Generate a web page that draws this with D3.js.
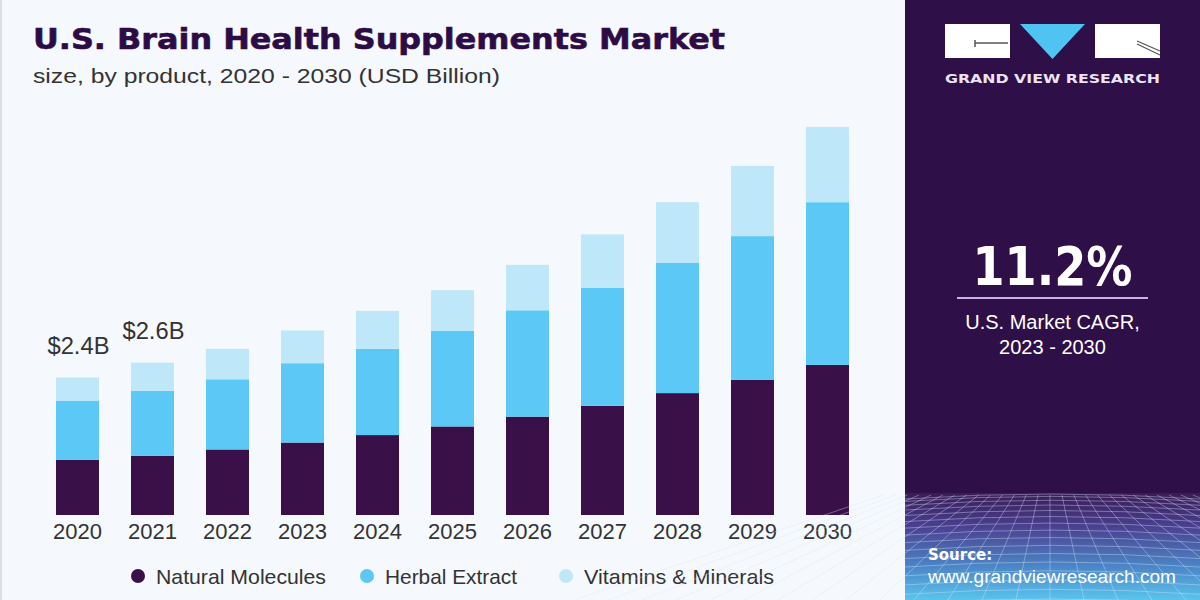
<!DOCTYPE html>
<html>
<head>
<meta charset="utf-8">
<script src="https://cdn.jsdelivr.net/npm/d3@7"></script>
<style>
  html, body { margin: 0; padding: 0; background: #f5f8fc; }
  svg { display: block; }
</style>
</head>
<body>
<svg id="chart" width="1200" height="600"></svg>
<script>
// ---- Data ----
const years = ["2020","2021","2022","2023","2024","2025","2026","2027","2028","2029","2030"];
const naturalMolecules = [0.96, 1.03, 1.14, 1.26, 1.39, 1.54, 1.71, 1.90, 2.12, 2.35, 2.61];
const herbalExtract    = [1.03, 1.13, 1.22, 1.38, 1.50, 1.66, 1.85, 2.05, 2.27, 2.50, 2.83];
const vitaminsMinerals = [0.40, 0.49, 0.53, 0.57, 0.66, 0.71, 0.79, 0.93, 1.05, 1.22, 1.31];
const seriesNames = ["Natural Molecules", "Herbal Extract", "Vitamins & Minerals"];
const seriesColors = ["#3a1048", "#5bc8f5", "#bee8fa"];
const valueLabels = [{year: "2020", text: "$2.4B"}, {year: "2021", text: "$2.6B"}];
const titleText = "U.S. Brain Health Supplements Market";
const subtitleText = "size, by product, 2020 - 2030 (USD Billion)";
const cagrValue = "11.2%";
const cagrLines = ["U.S. Market CAGR,", "2023 - 2030"];

const svg = d3.select("#chart");
const W = 1200, H = 600;

// background
svg.append("rect").attr("x",0).attr("y",0).attr("width",W).attr("height",H).attr("fill","#f5f8fc");
svg.append("rect").attr("x",0).attr("y",0).attr("width",2).attr("height",H).attr("fill","#dcdfe4");

// ---- Stack ----
const table = years.map((y,i)=>({year:y, "Natural Molecules":naturalMolecules[i], "Herbal Extract":herbalExtract[i], "Vitamins & Minerals":vitaminsMinerals[i]}));
const stack = d3.stack().keys(seriesNames)(table);

const x = d3.scaleBand().domain(years).range([40, 865]).paddingInner(0.4267).paddingOuter(0.2133);
const y = d3.scaleLinear().domain([0, 7]).range([515, 515 - 7*57.5]);
const color = d3.scaleOrdinal().domain(seriesNames).range(seriesColors);

const g = svg.append("g");
g.selectAll("g.series").data(stack).join("g").attr("class","series")
  .attr("fill", d => color(d.key))
  .selectAll("rect").data(d => d).join("rect")
  .attr("x", d => x(d.data.year))
  .attr("width", x.bandwidth())
  .attr("y", d => y(d[1]))
  .attr("height", d => y(d[0]) - y(d[1]));

// x axis
const xAxis = d3.axisBottom(x).tickSize(0).tickPadding(8);
const ax = svg.append("g").attr("transform", `translate(0,${y(0)})`).call(xAxis);
ax.select(".domain").remove();
ax.selectAll("text").attr("font-family","'Liberation Sans', Arial, sans-serif").attr("font-size",22).attr("fill","#333");

// value labels
const totals = {};
years.forEach((yr,i)=> totals[yr] = naturalMolecules[i]+herbalExtract[i]+vitaminsMinerals[i]);
svg.selectAll("text.vlabel").data(valueLabels).join("text").attr("class","vlabel")
  .attr("x", d => x(d.year) + x.bandwidth()/2 + 1)
  .attr("y", d => y(totals[d.year]) - 24)
  .attr("text-anchor","middle")
  .attr("font-family","'Liberation Sans', Arial, sans-serif").attr("font-size",23)
  .attr("fill","#333").attr("textLength",62).attr("lengthAdjust","spacingAndGlyphs")
  .text(d => d.text);

// title
svg.append("text").attr("x",33).attr("y",49)
  .attr("font-family","'DejaVu Sans', sans-serif").attr("font-weight","bold").attr("font-size",29)
  .attr("fill","#2d0c45").attr("stroke","#2d0c45").attr("stroke-width",0.6)
  .attr("textLength",692).attr("lengthAdjust","spacingAndGlyphs")
  .text(titleText);
svg.append("text").attr("x",33).attr("y",83)
  .attr("font-family","'Liberation Sans', Arial, sans-serif").attr("font-size",20.5)
  .attr("fill","#333").attr("textLength",467).attr("lengthAdjust","spacingAndGlyphs")
  .text(subtitleText);

// legend
const legendX = [138, 367, 566];
const legendW = [170, 132, 190];
const lg = svg.selectAll("g.legend").data(seriesNames).join("g").attr("class","legend")
  .attr("transform", (d,i)=>`translate(${legendX[i]},576)`);
lg.append("circle").attr("r",7).attr("fill", d => color(d));
lg.append("text").attr("x",18).attr("y",7.5)
  .attr("font-family","'Liberation Sans', Arial, sans-serif").attr("font-size",21)
  .attr("fill","#333").attr("textLength",(d,i)=>legendW[i]).attr("lengthAdjust","spacingAndGlyphs")
  .text(d=>d);

// ---- Right panel ----
const defs = svg.append("defs");
const grad = defs.append("linearGradient").attr("id","pgrad").attr("x1",0).attr("y1",0).attr("x2",0).attr("y2",1);
grad.append("stop").attr("offset","0%").attr("stop-color","#3a1b55");
grad.append("stop").attr("offset","30%").attr("stop-color","#4a3e8e");
grad.append("stop").attr("offset","70%").attr("stop-color","#4c88c8");
grad.append("stop").attr("offset","100%").attr("stop-color","#5ac4ec");

const px0 = 905;
svg.append("rect").attr("x",px0).attr("y",0).attr("width",W-px0).attr("height",H).attr("fill","#2f0f47");
svg.append("rect").attr("x",px0).attr("y",493).attr("width",W-px0).attr("height",H-493).attr("fill","url(#pgrad)");

// perspective grid (decorative)
const grid = svg.append("g").attr("stroke","#d5eaff").attr("stroke-opacity",0.38).attr("stroke-width",1).attr("fill","none");
const vx = 1050;
d3.range(-14, 15).forEach(k => {
  const bx = vx + k*34;
  grid.append("line").attr("x1", vx + (bx-vx)*0.35).attr("y1", 495).attr("x2", bx).attr("y2", 600);
});
d3.range(0, 16).forEach(k => {
  const t = k/15;
  const yy = 495 + Math.pow(t,1.4)*105;
  grid.append("path").attr("d", `M${px0},${yy+4} Q${vx},${yy-6} ${W},${yy+4}`);
});

// logo
const logo = svg.append("g");
logo.append("rect").attr("x",945).attr("y",24).attr("width",65).attr("height",34).attr("fill","#ffffff");
logo.append("path").attr("d","M1020,24 L1085,24 L1052.5,59 Z").attr("fill","#4fc3f2");
logo.append("rect").attr("x",1095).attr("y",24).attr("width",65).attr("height",34).attr("fill","#ffffff");
logo.append("path").attr("d","M975,40 L975,47 M975,43 L1008,43").attr("stroke","#555").attr("stroke-width",1.5).attr("fill","none");
logo.append("path").attr("d","M1137,41 L1160,51 M1137,44 L1160,55").attr("stroke","#555").attr("stroke-width",1.2).attr("fill","none");
svg.append("text").attr("x",1052.5).attr("y",83).attr("text-anchor","middle")
  .attr("font-family","'DejaVu Sans', sans-serif").attr("font-weight","bold").attr("font-size",13)
  .attr("fill","#ece4f4").attr("textLength",215).attr("lengthAdjust","spacingAndGlyphs")
  .text("GRAND VIEW RESEARCH");

// CAGR
svg.append("text").attr("x",1052.5).attr("y",285).attr("text-anchor","middle")
  .attr("font-family","'DejaVu Sans', sans-serif").attr("font-weight","bold").attr("font-size",54)
  .attr("fill","#ffffff").attr("textLength",160).attr("lengthAdjust","spacingAndGlyphs")
  .text(cagrValue);
svg.append("line").attr("x1",957).attr("x2",1148).attr("y1",298).attr("y2",298)
  .attr("stroke","#c9b3e3").attr("stroke-width",2);
svg.selectAll("text.cagr").data(cagrLines).join("text").attr("class","cagr")
  .attr("x",1052.5).attr("y",(d,i)=>329 + i*25).attr("text-anchor","middle")
  .attr("font-family","'Liberation Sans', Arial, sans-serif").attr("font-size",20)
  .attr("fill","#ffffff").text(d=>d);

// source
svg.append("text").attr("x",928).attr("y",560)
  .attr("font-family","'DejaVu Sans', sans-serif").attr("font-weight","bold").attr("font-size",15)
  .attr("fill","#ffffff").text("Source:");
svg.append("text").attr("x",928).attr("y",583)
  .attr("font-family","'Liberation Sans', Arial, sans-serif").attr("font-size",18)
  .attr("fill","#ffffff").attr("textLength",248).attr("lengthAdjust","spacingAndGlyphs")
  .text("www.grandviewresearch.com");
</script>
</body>
</html>
